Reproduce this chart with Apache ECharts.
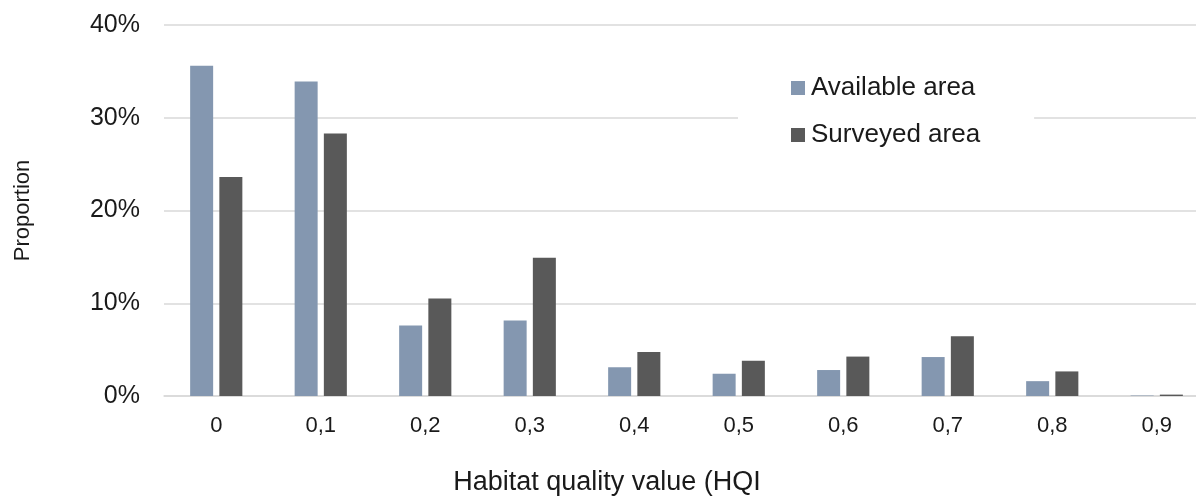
<!DOCTYPE html>
<html>
<head>
<meta charset="utf-8">
<script src="https://cdn.jsdelivr.net/npm/echarts@6/dist/echarts.min.js"></script>
<style>
  html, body { margin: 0; padding: 0; background: #fff; }
  #chart { width: 1196px; height: 497px; }
</style>
</head>
<body>
<div id="chart"></div>
<script>
// HQI classes and the share (%) of each area falling into them
const categories = ['0', '0,1', '0,2', '0,3', '0,4', '0,5', '0,6', '0,7', '0,8', '0,9'];
const availableArea = [35.6, 33.9, 7.6, 8.15, 3.1, 2.4, 2.8, 4.2, 1.6, 0.05];
const surveyedArea = [23.6, 28.3, 10.5, 14.9, 4.75, 3.8, 4.25, 6.45, 2.65, 0.15];
const yTicks = [0, 10, 20, 30, 40];

const textColor = '#1a1a1a';
const font = 'Liberation Sans, Arial, sans-serif';

const chart = echarts.init(document.getElementById('chart'), null, { renderer: 'canvas' });
chart.setOption({
  animation: false,
  backgroundColor: '#ffffff',
  grid: { left: 164, top: 25, bottom: 101, width: 1045, containLabel: false, outerBoundsMode: 'none' },
  legend: {
    orient: 'vertical',
    left: 738,
    top: 66,
    padding: [9, 54, 18, 53],
    backgroundColor: '#ffffff',
    itemWidth: 14,
    itemHeight: 14,
    itemGap: 21,
    icon: 'rect',
    textStyle: { fontFamily: font, fontSize: 26, lineHeight: 25, color: textColor, padding: [0, 0, 0, 1] },
    data: ['Available area', 'Surveyed area']
  },
  xAxis: {
    type: 'category',
    data: categories,
    name: 'Habitat quality value (HQI',
    nameLocation: 'middle',
    nameGap: 73,
    nameTextStyle: { fontFamily: font, fontSize: 27, color: textColor, padding: [0, 159, 0, 0] },
    axisLine: { lineStyle: { color: '#d9d9d9', width: 1.5 } },
    axisTick: { show: false },
    axisLabel: { fontFamily: font, fontSize: 22, color: textColor, margin: 19 }
  },
  yAxis: {
    type: 'value',
    min: yTicks[0],
    max: yTicks[yTicks.length - 1],
    interval: 10,
    name: 'Proportion',
    nameLocation: 'middle',
    nameRotate: 90,
    nameGap: 130,
    nameTextStyle: { fontFamily: font, fontSize: 22, color: textColor },
    axisLine: { show: false },
    axisTick: { show: false },
    axisLabel: { fontFamily: font, fontSize: 25, color: textColor, margin: 24, formatter: v => v + '%' },
    splitLine: { lineStyle: { color: '#d9d9d9', width: 1.5 } }
  },
  series: [
    {
      name: 'Available area',
      type: 'bar',
      data: availableArea,
      barWidth: 23,
      barGap: '27%',
      itemStyle: { color: '#8497b0' }
    },
    {
      name: 'Surveyed area',
      type: 'bar',
      data: surveyedArea,
      barWidth: 23,
      itemStyle: { color: '#595959' }
    }
  ]
});
</script>
</body>
</html>
